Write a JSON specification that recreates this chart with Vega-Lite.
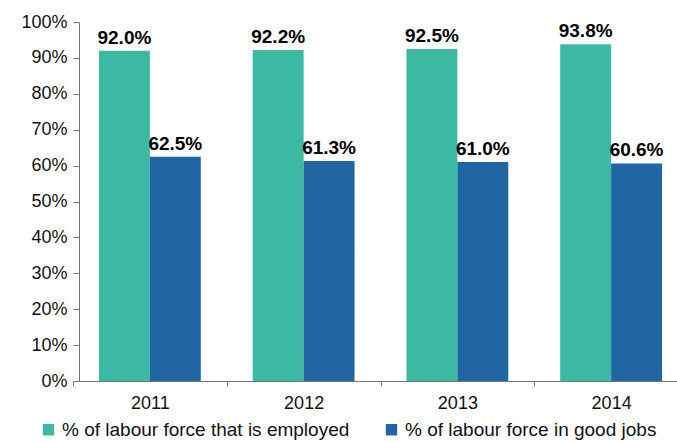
{
  "$schema": "https://vega.github.io/schema/vega-lite/v6.json",
  "autosize": "none",
  "width": 598,
  "height": 359,
  "padding": {"left": 79, "top": 22, "right": 0, "bottom": 61},
  "background": "white",
  "config": {
    "view": {"stroke": null},
    "font": "Liberation Sans"
  },
  "data": {
    "values": [
      {"year": "2011", "series": "% of labour force that is employed", "value": 0.920},
      {"year": "2011", "series": "% of labour force in good jobs", "value": 0.625},
      {"year": "2012", "series": "% of labour force that is employed", "value": 0.922},
      {"year": "2012", "series": "% of labour force in good jobs", "value": 0.613},
      {"year": "2013", "series": "% of labour force that is employed", "value": 0.925},
      {"year": "2013", "series": "% of labour force in good jobs", "value": 0.610},
      {"year": "2014", "series": "% of labour force that is employed", "value": 0.938},
      {"year": "2014", "series": "% of labour force in good jobs", "value": 0.606}
    ]
  },
  "encoding": {
    "x": {
      "field": "year", "type": "ordinal",
      "scale": {"paddingInner": 0, "paddingOuter": 0, "range": [-6, 609]},
      "axis": {
        "title": null, "labelAngle": 0, "tickBand": "extent",
        "labelFontSize": 18, "labelColor": "#111", "labelPadding": 8,
        "domainColor": "#777", "tickColor": "#777", "tickSize": 5
      }
    },
    "xOffset": {
      "field": "series", "type": "nominal",
      "sort": ["% of labour force that is employed", "% of labour force in good jobs"],
      "scale": {"paddingInner": 0, "paddingOuter": 0.51}
    },
    "y": {
      "field": "value", "type": "quantitative",
      "scale": {"domain": [0, 1], "nice": false},
      "axis": {
        "title": null, "format": ".0%", "grid": false,
        "values": [0, 0.1, 0.2, 0.3, 0.4, 0.5, 0.6, 0.7, 0.8, 0.9, 1.0],
        "labelFontSize": 18, "labelColor": "#111", "labelPadding": 6,
        "domainColor": "#777", "tickColor": "#777", "tickSize": 6
      }
    }
  },
  "layer": [
    {
      "mark": {"type": "bar"},
      "encoding": {
        "color": {
          "field": "series", "type": "nominal",
          "sort": ["% of labour force that is employed", "% of labour force in good jobs"],
          "scale": {"range": ["#3CB9A3", "#1F66A3"]},
          "legend": {
            "title": null, "orient": "none", "direction": "horizontal",
            "legendX": -40, "legendY": 398,
            "symbolType": "square", "symbolSize": 130, "symbolStrokeWidth": 0,
            "labelFontSize": 19, "labelColor": "#111", "columnPadding": 32,
            "labelLimit": 400, "symbolOpacity": 1
          }
        }
      }
    },
    {
      "mark": {"type": "text", "baseline": "bottom", "dy": -3, "fontWeight": "bold", "fontSize": 19, "color": "#000"},
      "encoding": {
        "text": {"field": "value", "type": "quantitative", "format": ".1%"}
      }
    }
  ]
}
